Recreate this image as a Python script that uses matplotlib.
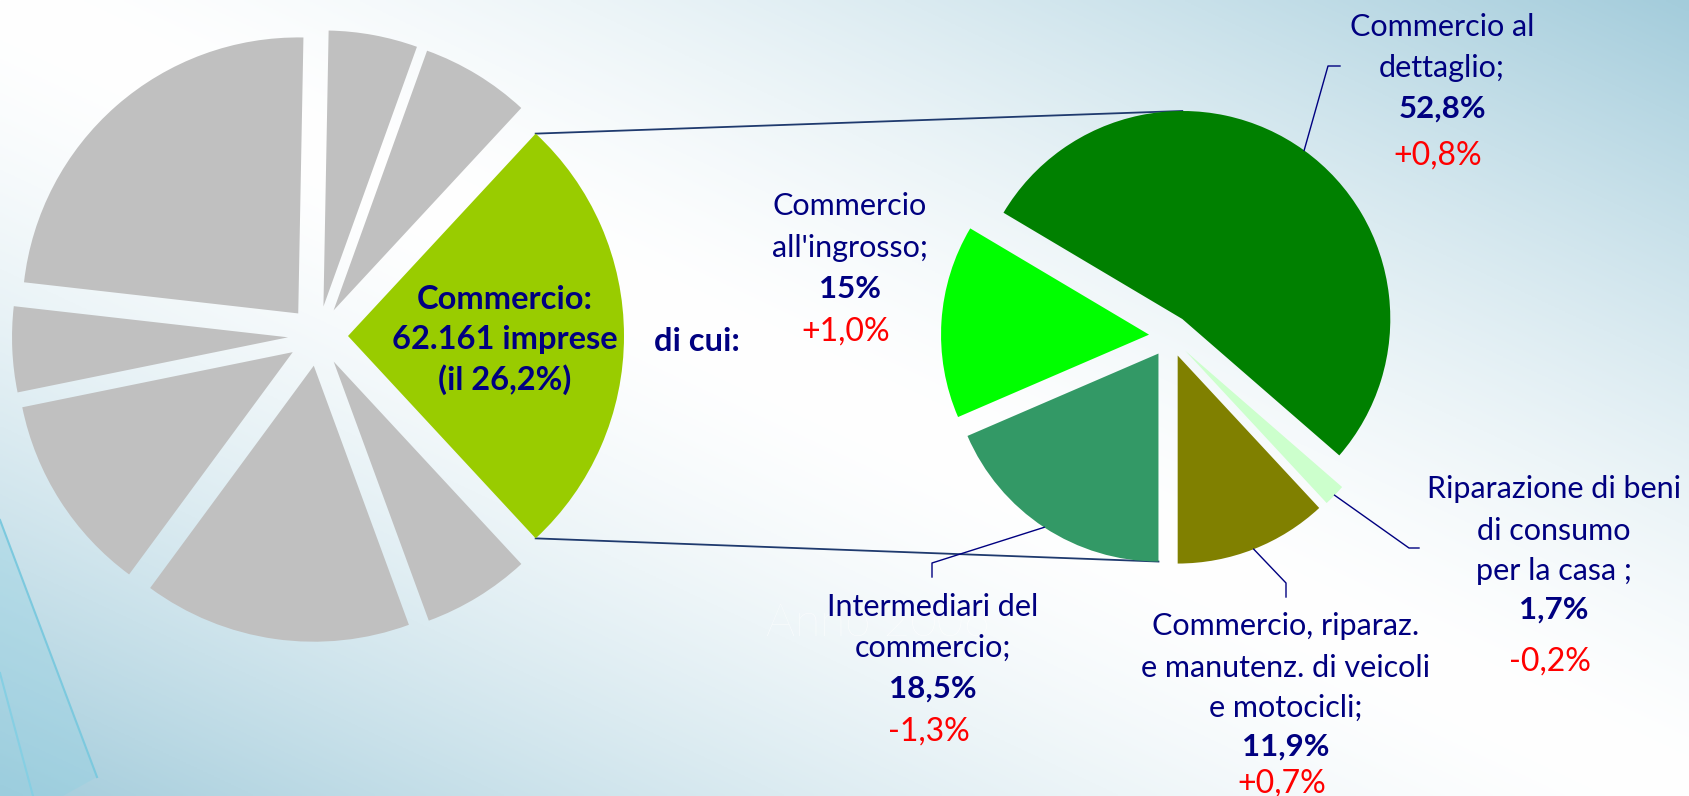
import matplotlib.pyplot as plt
import numpy as np
from matplotlib.patches import Polygon

W, H = 1689, 796

# torta di sinistra: settori economici (grigi) con il commercio in evidenza
settori_quote = [26.2, 6.4, 5.2, 23.5, 5.0, 11.7, 15.7, 6.3]
settori_colori = ["#99cc00"] + ["#c0c0c0"] * 7
commercio_testo = ["Commercio:", "62.161 imprese", "(il 26,2%)"]

# torta di destra: composizione del commercio
comm_nomi = [
    ["Commercio, riparaz.", "e manutenz. di veicoli", "e motocicli;"],
    ["Riparazione di beni", "di consumo", "per la casa ;"],
    ["Commercio al", "dettaglio;"],
    ["Commercio", "all'ingrosso;"],
    ["Intermediari del", "commercio;"],
]
comm_quote = [11.9, 1.7, 52.8, 15.0, 18.5]
comm_quote_txt = ["11,9%", "1,7%", "52,8%", "15%", "18,5%"]
comm_var = ["+0,7%", "-0,2%", "+0,8%", "+1,0%", "-1,3%"]
comm_colori = ["#808000", "#ccffcc", "#008000", "#00ff00", "#339966"]

# posizione delle etichette (coordinate immagine, y verso il basso)
etich_x = [1286, 1554, 1442, 850, 933]
etich_y = [
    [625, 667, 707, 745, 782],
    [488, 530, 570, 608, 660],
    [26, 67, 107, 154],
    [205, 247, 287, 330],
    [606, 647, 687, 730],
]
# linee guida: gomito e fine (None = nessuna linea)
guida = [
    ((1286, 583), (1286, 597)),
    ((1409, 548), (1419, 548)),
    ((1328, 66), (1340, 66)),
    None,
    ((932, 563), (932, 577)),
]

NAVY = "#000080"
FONT = "Lato"


def yy(y):
    return H - y


fig = plt.figure(figsize=(W / 100, H / 100), dpi=100)
ax = fig.add_axes([0, 0, 1, 1])

# sfondo sfumato
gy, gx = np.mgrid[0:1:300j, 0:1:600j]
t = np.abs(gx - gy) ** 1.5
blu = np.array([0.64, 0.80, 0.86])
img = (1 - t[..., None]) * np.ones(3) + t[..., None] * blu
ax.imshow(img, extent=(0, W, 0, H), origin="upper", aspect="auto", zorder=0)

# decorazione in basso a sinistra
ax.add_patch(Polygon([(0, yy(520)), (97, yy(777)), (63, yy(796)), (0, yy(796))],
                     closed=True, facecolor="#8fd0e2", alpha=0.35, edgecolor="none", zorder=1))
ax.plot([0, 97], [yy(520), yy(777)], color="#7cc9de", lw=1.5, zorder=1)
ax.plot([0, 33], [yy(673), yy(796)], color="#86cfe3", lw=1.5, zorder=1)

ax.text(878, yy(636), "Anno 2006", color="white", fontsize=33, family=FONT,
        fontweight="light", ha="center", va="baseline", alpha=0.9, zorder=2)

# torta sinistra
w_sx, _ = ax.pie(settori_quote, colors=settori_colori, startangle=-26.2 * 3.6 / 2,
                 radius=276, center=(318, yy(336)), explode=[30] * len(settori_quote),
                 wedgeprops=dict(linewidth=0), frame=True)
for wd in w_sx:
    wd.set_zorder(3)

# torta destra
w_dx, _ = ax.pie(comm_quote, colors=comm_colori, startangle=270, radius=208,
                 center=(1170, yy(336)), explode=[21] * len(comm_quote),
                 wedgeprops=dict(linewidth=0), frame=True)
for wd in w_dx:
    wd.set_zorder(3)


def punto(wd, ang):
    a = np.deg2rad(ang)
    cx, cy = wd.center
    return cx + wd.r * np.cos(a), cy + wd.r * np.sin(a)


# linee di collegamento tra le due torte
verde = w_sx[0]
p_alto = punto(verde, verde.theta2)
p_basso = punto(verde, verde.theta1)
q_alto = punto(w_dx[2], 90)
q_basso = punto(w_dx[4], 270)
ax.plot([p_alto[0], q_alto[0]], [p_alto[1], q_alto[1]], color="#1f3a6e", lw=1.3, zorder=2)
ax.plot([p_basso[0], q_basso[0]], [p_basso[1], q_basso[1]], color="#1f3a6e", lw=1.3, zorder=2)

# etichette torta destra
for i, wd in enumerate(w_dx):
    righe = comm_nomi[i]
    ys = etich_y[i]
    x = etich_x[i]
    for j, r in enumerate(righe):
        ax.text(x, yy(ys[j] + 10), r, color=NAVY, fontsize=22, family=FONT,
                ha="center", va="baseline", zorder=5)
    n = len(righe)
    ax.text(x, yy(ys[n] + 11), comm_quote_txt[i], color=NAVY, fontsize=22.5,
            family=FONT, fontweight="bold", ha="center", va="baseline", zorder=5)
    ax.text(x - 4, yy(ys[n + 1] + 11), comm_var[i], color="red", fontsize=23,
            family=FONT, ha="center", va="baseline", zorder=5)
    if guida[i] is not None:
        p0 = punto(wd, (wd.theta1 + wd.theta2) / 2)
        gomito, fine = guida[i]
        ax.plot([p0[0], gomito[0], fine[0]], [p0[1], yy(gomito[1]), yy(fine[1])],
                color=NAVY, lw=1, zorder=4)

# testo sul settore commercio
for j, (r, y) in enumerate(zip(commercio_testo, [298, 338, 379])):
    ax.text(505, yy(y + 11), r, color=NAVY, fontsize=23.5, family=FONT,
            fontweight="bold", ha="center", va="baseline", zorder=5)
ax.text(697, yy(340 + 11), "di cui:", color=NAVY, fontsize=23.5, family=FONT,
        fontweight="bold", ha="center", va="baseline", zorder=5)

ax.set_xlim(0, W)
ax.set_ylim(0, H)
ax.set_aspect("auto")
ax.axis("off")

fig.savefig("out.png", dpi=100)
